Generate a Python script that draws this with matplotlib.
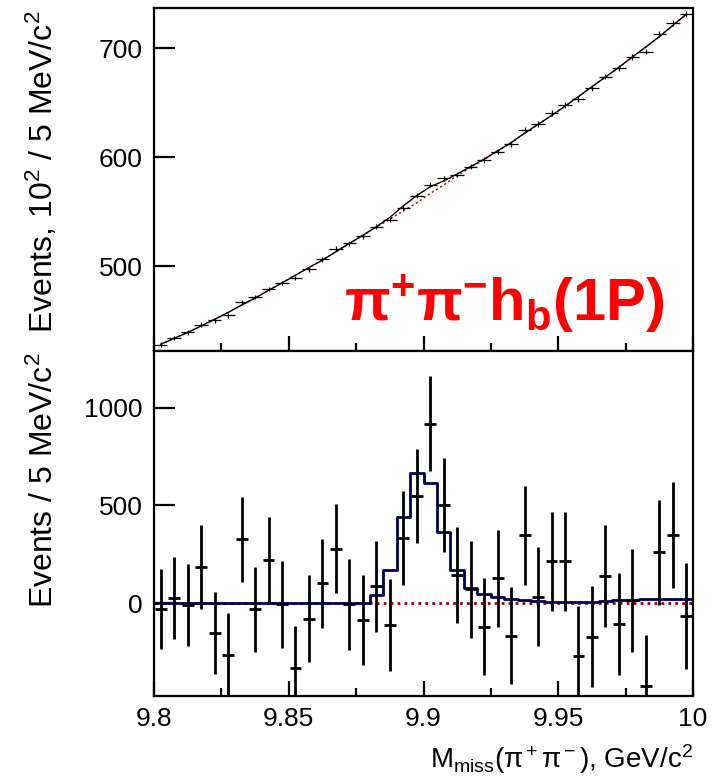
import numpy as np
import matplotlib
matplotlib.use('Agg')
import matplotlib.pyplot as plt
from matplotlib.ticker import MultipleLocator

plt.rcParams['font.family'] = ['Liberation Sans', 'DejaVu Sans']
plt.rcParams['mathtext.fontset'] = 'custom'
plt.rcParams['mathtext.rm'] = 'Liberation Sans'
plt.rcParams['mathtext.it'] = 'Liberation Sans:italic'
plt.rcParams['mathtext.bf'] = 'Liberation Sans:bold'

# 40 bins of 5 MeV from 9.80 to 10.00 GeV
mass = np.linspace(9.8025, 9.9975, 40)
half_bin = 0.0025

# upper panel, units of 10^2 events
top_counts = [427.8, 433.9, 439.1, 446.1, 450.1, 454.7, 466.6, 471.6, 478.9, 484.4,
              489.0, 497.2, 506.4, 515.9, 521.1, 527.2, 536.3, 542.5, 553.2, 564.5,
              574.6, 580.7, 583.8, 591.4, 597.5, 605.1, 612.2, 625.0, 630.5, 640.4,
              648.0, 653.2, 663.3, 674.0, 681.7, 691.7, 696.9, 712.8, 723.5, 731.5]
background = [428.2, 433.6, 439.0, 445.0, 451.1, 457.4, 464.2, 470.6, 477.7, 484.5,
              491.6, 498.6, 505.5, 513.2, 520.8, 528.2, 535.7, 543.0, 550.8, 558.1,
              566.7, 574.5, 582.9, 590.6, 597.7, 605.5, 613.1, 621.9, 630.0, 638.1,
              646.7, 655.6, 664.5, 673.5, 682.3, 691.9, 701.0, 710.5, 720.8, 731.0]

# lower panel, background subtracted events
residual = [-31, 27, -9, 187, -154, -265, 327, -31, 221, -5,
            -334, -79, 101, 279, -5, -86, 86, -113, 334, 548,
            919, 502, 146, 70, -120, 127, -166, 348, 34, 214,
            214, -272, -171, 140, -106, 14, -425, 260, 348, -65]
errors = [206, 211, 208, 215, 210, 217, 217, 218, 218, 222,
          219, 224, 229, 229, 233, 229, 234, 235, 240, 242,
          241, 241, 245, 246, 248, 247, 247, 253, 253, 254,
          254, 257, 259, 262, 261, 265, 262, 268, 272, 271]
signal_fit = [0, 0, 0, 0, 0, 0, 0, 0, 0, 0,
              0, 0, 0, 0, 0, 0, 41, 168, 442, 666,
              613, 365, 168, 77, 48, 34, 22, 14, 10, 8,
              8, 8, 8, 12, 14, 14, 20, 20, 20, 20]

background = np.array(background)
signal_fit = np.array(signal_fit)
errors = np.array(errors)

fig = plt.figure(figsize=(7.14, 7.81), dpi=100)
ax1 = fig.add_axes([0.2157, 0.5506, 0.7549, 0.4392])
ax2 = fig.add_axes([0.2157, 0.1088, 0.7549, 0.4418])

for ax in (ax1, ax2):
    ax.set_xlim(9.8, 10.0)
    for s in ax.spines.values():
        s.set_linewidth(1.6)
    ax.tick_params(which='both', direction='in', width=1.6, labelsize=19,
                   right=False, top=False)
    ax.tick_params(axis='y', which='major', length=15, pad=8)
    ax.tick_params(axis='x', which='major', length=11, pad=8)
    ax.tick_params(axis='x', which='minor', length=6)
    ax.xaxis.set_major_locator(MultipleLocator(0.05))
    ax.xaxis.set_minor_locator(MultipleLocator(0.025))

# upper panel
ax1.plot(mass, background, color='#990000', lw=1.0, ls=(0, (1.5, 2)))
ax1.plot(mass, background + signal_fit / 100.0, color='black', lw=1.0)
ax1.errorbar(mass, top_counts, xerr=half_bin, yerr=errors / 100.0, fmt='none',
             ecolor='black', elinewidth=0.9)
ax1.set_ylim(422, 737)
ax1.set_yticks([500, 600, 700])
ax1.tick_params(axis='x', labelbottom=False)
ax1.text(0.948, 0.085, r'$\mathbf{\pi^{+}\pi^{-}h_{b}(1P)}$', color='#ff0000',
         fontsize=43, ha='right', va='baseline', transform=ax1.transAxes)

# lower panel
ax2.axhline(0, color='#990000', lw=2.0, ls=(0, (1, 1.5)))
ax2.step(mass, signal_fit, where='mid', color='#00005a', lw=2.0)
ax2.plot([9.8, mass[0]], [signal_fit[0], signal_fit[0]], color='#00005a', lw=2.0)
ax2.plot([mass[-1], 10.0], [signal_fit[-1], signal_fit[-1]], color='#00005a', lw=2.0)
ax2.errorbar(mass, residual, xerr=0.0022, yerr=errors, fmt='none',
             ecolor='black', elinewidth=2.0)
ax2.set_ylim(-475, 1290)
ax2.set_yticks([0, 500, 1000])
ax2.set_xticks([9.8, 9.85, 9.9, 9.95, 10.0])
ax2.set_xticklabels(['9.8', '9.85', '9.9', '9.95', '10'])

fig.text(42 / 714, 1 - 172 / 781, r'Events, 10$^2$ / 5 MeV/c$^2$', rotation=90,
         ha='center', va='center', fontsize=23)
fig.text(44 / 714, 1 - 480 / 781, r'Events / 5 MeV/c$^2$', rotation=90,
         ha='center', va='center', fontsize=23)
fig.text(693 / 714, 1 - 768 / 781, r'M$_{\rm miss}$($\rm\pi^+\pi^-$), GeV/c$^2$',
         ha='right', va='baseline', fontsize=20)

fig.savefig('out.png', dpi=100)
